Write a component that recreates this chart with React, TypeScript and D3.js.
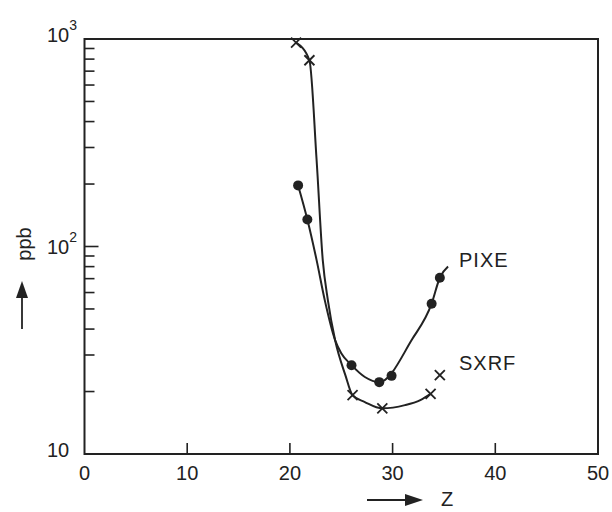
import React from 'react';
import * as d3 from 'd3';

// measured points (Z, ppb)
const pixeZ = [20.8, 21.7, 26.0, 28.7, 29.9, 33.8, 34.6];
const pixePpb = [197, 135, 26.8, 22.2, 23.8, 53, 70.7];
const sxrfZ = [20.6, 21.9, 26.1, 29.0, 33.7, 34.6];
const sxrfPpb = [960, 790, 19.2, 16.6, 19.5, 24];

// hand drawn guide curves
const pixeFitZ = [20.8, 21.7, 22.6, 23.4, 24.4, 25.0, 26.0, 27.3, 28.7, 31.9, 33.8, 34.6, 35.4];
const pixeFitPpb = [197, 135, 86, 55, 35.4, 30.6, 26.8, 23.5, 22.2, 35.7, 53, 70.7, 80];
const sxrfFitZ = [20.6, 21.9, 22.6, 23.2, 23.7, 24.4, 25.4, 26.1, 27.3, 29.0, 31.2, 32.7, 33.7];
const sxrfFitPpb = [960, 790, 261, 86, 55, 35.4, 24.0, 19.2, 17.8, 16.6, 17.2, 18.2, 19.5];

const xTicks = [0, 10, 20, 30, 40, 50];
const yLabels = [
  { v: 1000, base: '10', exp: '3' },
  { v: 100, base: '10', exp: '2' },
  { v: 10, base: '10', exp: '' },
];

const ink = '#222';
const font = '"Liberation Sans", Arial, sans-serif';

export default function App() {
  const margin = { left: 84.5, right: 598, top: 39, bottom: 454 };
  const x = d3.scaleLinear().domain([0, 50]).range([margin.left, margin.right]);
  const y = d3.scaleLog().domain([10, 1000]).range([margin.bottom, margin.top]);

  const line = d3
    .line<[number, number]>()
    .x((d) => x(d[0]))
    .y((d) => y(d[1]))
    .curve(d3.curveMonotoneX);

  const pixeFit = pixeFitZ.map((z, i) => [z, pixeFitPpb[i]] as [number, number]);
  const sxrfFit = sxrfFitZ.map((z, i) => [z, sxrfFitPpb[i]] as [number, number]);

  // minor ticks 2..9 per decade
  const minor: number[] = [];
  [10, 100].forEach((d) => {
    for (let k = 2; k <= 9; k++) minor.push(d * k);
  });

  return (
    <svg width={612} height={512} style={{ position: 'absolute', left: 0, top: 0, background: '#fff' }}>
      {/* frame */}
      <rect
        x={margin.left}
        y={margin.top}
        width={margin.right - margin.left}
        height={margin.bottom - margin.top}
        fill="none"
        stroke={ink}
        strokeWidth={2}
      />

      {/* y ticks */}
      {minor.map((v) => (
        <line key={'m' + v} x1={x(0)} x2={x(0) + 10} y1={y(v)} y2={y(v)} stroke={ink} strokeWidth={1.6} />
      ))}
      <line x1={x(0)} x2={x(0) + 14} y1={y(100)} y2={y(100)} stroke={ink} strokeWidth={1.6} />

      {/* x ticks */}
      {xTicks.slice(1, -1).map((t) => (
        <line key={'xt' + t} x1={x(t)} x2={x(t)} y1={y(10)} y2={y(10) - 11} stroke={ink} strokeWidth={1.6} />
      ))}
      {xTicks.map((t) => (
        <text key={'xl' + t} x={x(t)} y={480} textAnchor="middle" fontFamily={font} fontSize={20} fill={ink}>
          {t}
        </text>
      ))}

      {/* y labels */}
      {yLabels.map((l) => (
        <text
          key={'yl' + l.v}
          x={47}
          y={y(l.v) + (l.v === 100 ? 7.5 : 3)}
          fontFamily={font}
          fontSize={20}
          fill={ink}
        >
          {l.base}
          {l.exp && (
            <tspan dy={-12} fontSize={14}>
              {l.exp}
            </tspan>
          )}
        </text>
      ))}

      {/* curves */}
      <path d={line(pixeFit) ?? ''} fill="none" stroke={ink} strokeWidth={2} />
      <path d={line(sxrfFit) ?? ''} fill="none" stroke={ink} strokeWidth={2} />

      {/* PIXE dots */}
      {pixeZ.map((z, i) => (
        <circle key={'p' + i} cx={x(z)} cy={y(pixePpb[i])} r={5} fill={ink} />
      ))}

      {/* SXRF crosses */}
      {sxrfZ.map((z, i) => {
        const cx = x(z);
        const cy = y(sxrfPpb[i]);
        const s = 5;
        return (
          <g key={'s' + i} stroke={ink} strokeWidth={1.8}>
            <line x1={cx - s} y1={cy - s} x2={cx + s} y2={cy + s} />
            <line x1={cx - s} y1={cy + s} x2={cx + s} y2={cy - s} />
          </g>
        );
      })}

      {/* series labels */}
      <text x={459} y={267} fontFamily={font} fontSize={20} fill={ink} letterSpacing={1}>
        PIXE
      </text>
      <text x={459} y={370} fontFamily={font} fontSize={20} fill={ink} letterSpacing={1}>
        SXRF
      </text>

      {/* axis titles with arrows */}
      <line x1={367} x2={408} y1={500} y2={500} stroke={ink} strokeWidth={1.8} />
      <path d="M405,494 L423,500 L405,506 Z" fill={ink} />
      <text x={441} y={506} fontFamily={font} fontSize={20} fill={ink}>
        Z
      </text>

      <line x1={22} x2={22} y1={329} y2={294} stroke={ink} strokeWidth={1.8} />
      <path d="M16,298 L22,281 L28,298 Z" fill={ink} />
      <text
        transform="translate(31,244) rotate(-90)"
        textAnchor="middle"
        fontFamily={font}
        fontSize={20}
        fill={ink}
      >
        ppb
      </text>
    </svg>
  );
}
